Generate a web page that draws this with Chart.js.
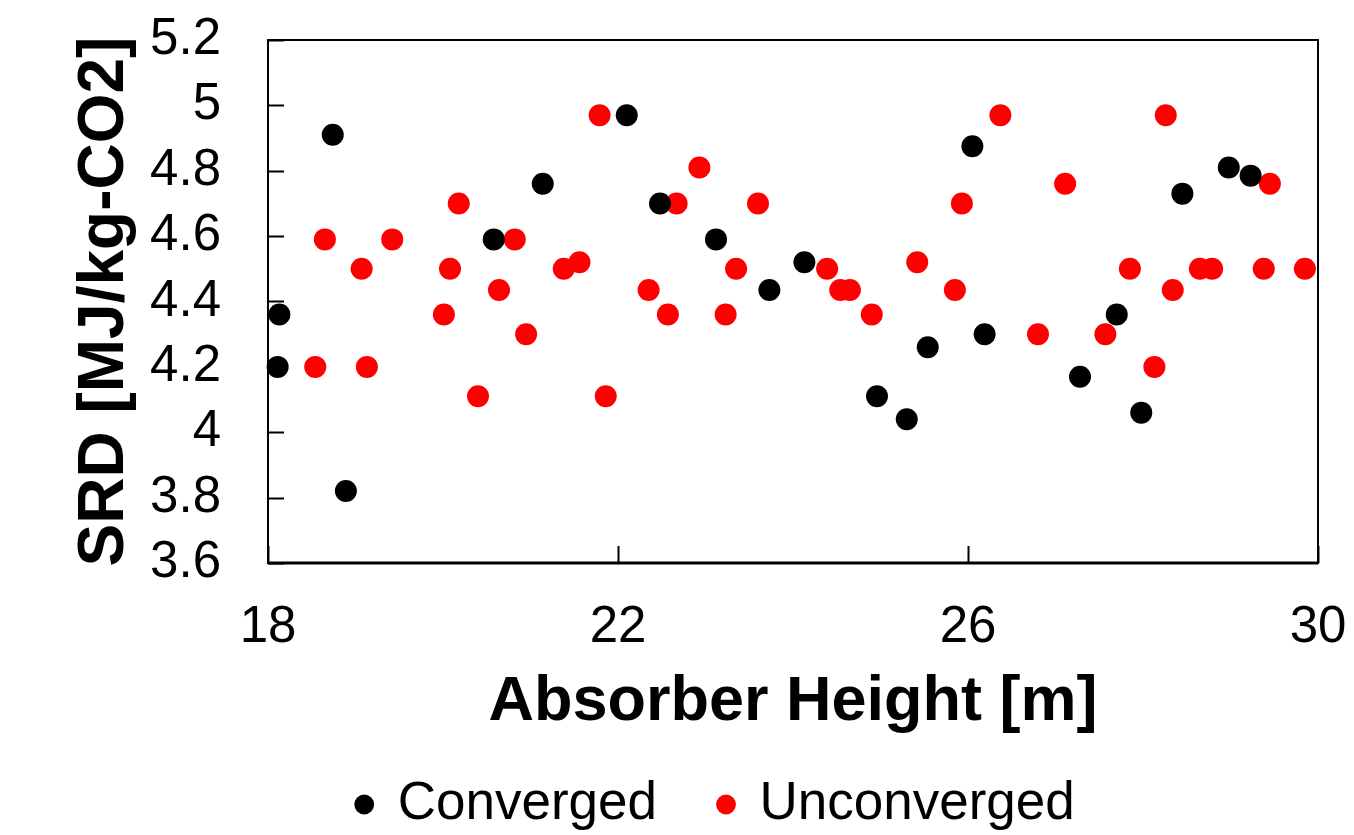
<!DOCTYPE html>
<html>
<head>
<meta charset="utf-8">
<title>SRD vs Absorber Height</title>
<script src="https://cdn.jsdelivr.net/npm/chart.js@4.4.1/dist/chart.umd.min.js"></script>
<style>
  html, body { margin: 0; padding: 0; background: #fff; }
  canvas { display: block; }
</style>
</head>
<body>
<canvas id="srd-chart" width="1354" height="835"></canvas>
<script>
 // values //
 let convergedHeight = [18.11, 18.13, 18.74, 18.89, 20.58, 21.14, 22.10, 22.48, 23.12, 23.73, 24.13,
     24.96, 25.30, 25.54, 26.05, 26.19, 27.28, 27.70, 27.98, 28.45, 28.98, 29.23];
 let convergedSRD = [4.20, 4.36, 4.91, 3.82, 4.59, 4.76, 4.97, 4.70, 4.59, 4.435, 4.52,
     4.11, 4.04, 4.26, 4.875, 4.30, 4.17, 4.36, 4.06, 4.73, 4.81, 4.785];

 let unconvergedHeight = [18.54, 18.65, 19.07, 19.13, 19.42, 20.01, 20.08, 20.18, 20.40, 20.64, 20.82,
     20.95, 21.38, 21.56, 21.79, 21.86, 22.35, 22.57, 22.67, 22.93, 23.23, 23.35, 23.60, 24.39, 24.54,
     24.65, 24.90, 25.42, 25.85, 25.93, 26.37, 26.80, 27.11, 27.57, 27.85, 28.13, 28.26, 28.34, 28.65,
     28.79, 29.38, 29.45, 29.85];
 let unconvergedSRD = [4.20, 4.59, 4.50, 4.20, 4.59, 4.36, 4.50, 4.70, 4.11, 4.435, 4.59,
     4.30, 4.50, 4.52, 4.97, 4.11, 4.435, 4.36, 4.70, 4.81, 4.36, 4.50, 4.70, 4.50, 4.435,
     4.435, 4.36, 4.52, 4.435, 4.70, 4.97, 4.30, 4.76, 4.30, 4.50, 4.20, 4.97, 4.435, 4.50,
     4.50, 4.50, 4.76, 4.50];

 let xTicks = [18, 22, 26, 30];
 let yTicks = [3.6, 3.8, 4, 4.2, 4.4, 4.6, 4.8, 5, 5.2];

 let seriesNames = ["Converged", "Unconverged"];
 let seriesColors = ["#000000", "#ff0000"];

 function toPoints(xs, ys) {
    let pts = [];
    for (let i = 0; i < xs.length; i++) {
        pts.push({ x: xs[i], y: ys[i] });
    }
    return pts;
 }

 // box round the plot and the small inward tick marks
 const frameAndTicks = {
    id: "frameAndTicks",
    beforeDatasetsDraw(chart) {
        const ctx = chart.ctx;
        const a = chart.chartArea;
        const xs = chart.scales.x;
        const ys = chart.scales.y;
        ctx.save();
        ctx.strokeStyle = "#000";
        ctx.lineWidth = 2;
        ctx.strokeRect(a.left, a.top, a.right - a.left, a.bottom - a.top);
        ctx.beginPath();
        ys.ticks.forEach(t => {
            let py = Math.round(ys.getPixelForValue(t.value)) + 0.5;
            ctx.moveTo(a.left, py);
            ctx.lineTo(a.left + 16, py);
        });
        xs.ticks.forEach(t => {
            let px = Math.round(xs.getPixelForValue(t.value)) + 0.5;
            ctx.moveTo(px, a.bottom);
            ctx.lineTo(px, a.bottom - 17);
        });
        ctx.stroke();
        ctx.lineWidth = 3;
        ctx.beginPath();
        ctx.moveTo(a.left, a.bottom);
        ctx.lineTo(a.right, a.bottom);
        ctx.stroke();
        ctx.restore();
    }
 };

 const fontFamily = "'Liberation Sans', Arial, sans-serif";
 Chart.defaults.color = "#000";
 Chart.defaults.font.family = fontFamily;

 let srdChart = new Chart("srd-chart", {
    type: "scatter",
    data: {
        datasets: [{
            label: seriesNames[0],
            data: toPoints(convergedHeight, convergedSRD),
            backgroundColor: seriesColors[0],
            borderColor: seriesColors[0],
            borderWidth: 0,
            pointRadius: 11,
            pointHoverRadius: 11,
            clip: false
        }, {
            label: seriesNames[1],
            data: toPoints(unconvergedHeight, unconvergedSRD),
            backgroundColor: seriesColors[1],
            borderColor: seriesColors[1],
            borderWidth: 0,
            pointRadius: 11,
            pointHoverRadius: 11,
            clip: false
        }]
    },
    options: {
        responsive: false,
        animation: false,
        devicePixelRatio: 1,
        layout: {
            padding: { left: 78, right: 0, top: 40, bottom: -6 }
        },
        plugins: {
            tooltip: { enabled: false },
            legend: {
                position: "bottom",
                labels: {
                    usePointStyle: true,
                    pointStyle: "circle",
                    boxWidth: 14,
                    boxHeight: 14,
                    padding: 62,
                    color: "#000",
                    font: { size: 53, family: fontFamily }
                }
            }
        },
        scales: {
            x: {
                type: "linear",
                min: 18,
                max: 30,
                afterBuildTicks: scale => {
                    scale.ticks = xTicks.map(v => ({ value: v }));
                },
                afterFit: scale => {
                    scale.height = 153;
                    scale.paddingRight = 36;
                },
                grid: { display: false, drawTicks: false },
                border: { display: false },
                ticks: {
                    padding: 34,
                    maxRotation: 0,
                    autoSkip: false,
                    font: { size: 51 },
                    callback: v => String(v)
                },
                title: {
                    display: true,
                    text: "Absorber Height [m]",
                    font: { size: 63, weight: "bold", lineHeight: 1 },
                    padding: { top: 0, bottom: -18 }
                }
            },
            y: {
                type: "linear",
                min: 3.6,
                max: 5.2,
                afterBuildTicks: scale => {
                    scale.ticks = yTicks.map(v => ({ value: v }));
                },
                afterFit: scale => {
                    scale.width = 190;
                    scale.paddingTop = 0;
                    scale.paddingBottom = 0;
                },
                grid: { display: false, drawTicks: false },
                border: { display: false },
                ticks: {
                    padding: 47,
                    autoSkip: false,
                    font: { size: 51 },
                    callback: v => String(+v.toFixed(1))
                },
                title: {
                    display: true,
                    text: "SRD [MJ/kg-CO2]",
                    font: { size: 64, weight: "bold", lineHeight: 1 },
                    padding: { top: -5, bottom: 0 }
                }
            }
        }
    },
    plugins: [frameAndTicks]
 });
</script>
</body>
</html>
